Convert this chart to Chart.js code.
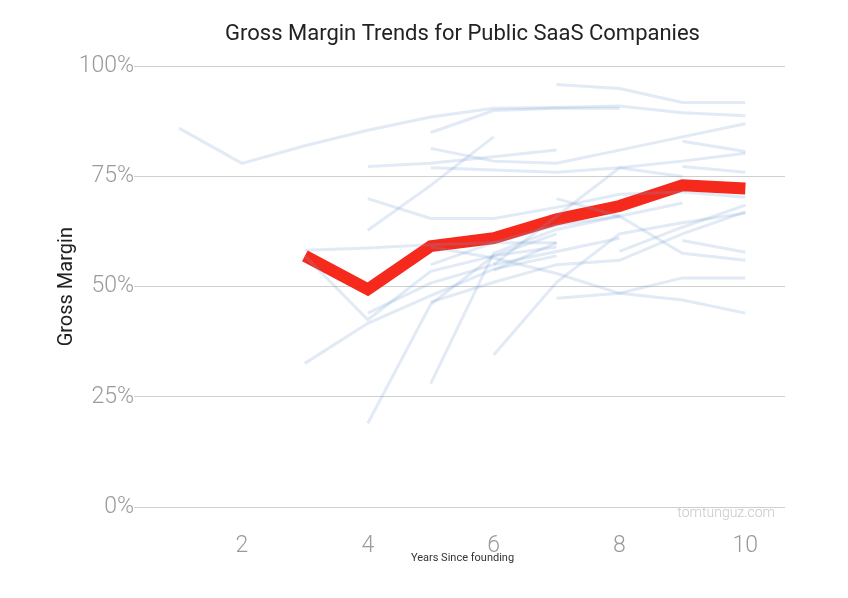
<!DOCTYPE html>
<html>
<head>
<meta charset="utf-8">
<script src="https://cdn.jsdelivr.net/npm/chart.js@4.4.1/dist/chart.umd.min.js"></script>
<style>
  html, body { margin: 0; padding: 0; background: #fff; }
  #wrap { width: 848px; height: 598px; }
</style>
</head>
<body>
<div id="wrap"><canvas id="marginChart" width="848" height="598"></canvas></div>
<script>
// years since founding (x values)
var years = [1, 2, 3, 4, 5, 6, 7, 8, 9, 10];
var xTicks = [2, 4, 6, 8, 10];
var yTicks = [0, 25, 50, 75, 100];

// average gross margin across companies (red line)
var averageMargin = [null, null, 57, 49.4, 59.2, 61, 65.3, 68.3, 73, 72.3];

// individual companies, gross margin % by year (null = no data)
var companyMargins = [
    [86, 78, 82, 85.5, 88.5, 90.5, 90.7, 91, 89.5, 88.8],
    [null, null, null, null, 85, 90, 90.5, 90.5, null, null],
    [null, null, null, null, null, null, 95.9, 95, 91.8, 91.8],
    [null, null, null, null, 81.4, 78.5, 78, 81, 84, 87],
    [null, null, null, 77.3, 78, 79.5, 81, null, null, null],
    [null, null, null, null, 77, 76.5, 76, 77, 78.5, 80.3],
    [null, null, null, null, null, null, null, null, 83, 80.7],
    [null, null, null, null, null, null, null, null, 77.3, 76],
    [null, null, null, 62.8, 73, 84, null, null, null, null],
    [null, null, null, 70, 65.5, 65.5, 68, 71, 71.5, 70.3],
    [null, null, 32.6, 41.7, 48, 54, 57, null, null, null],
    [null, null, 58.3, 58.8, 59.5, 60, 60, null, null, null],
    [null, null, 57, 42.5, 53.5, 57, 59, null, null, null],
    [null, null, null, 19, 46, 57, 62, null, null, null],
    [null, null, null, null, 28, 57.6, 63, 66, null, null],
    [null, null, null, null, null, 34.5, 51, 62, 64.5, 66.7],
    [null, null, null, null, null, null, 47.4, 48.5, 52, 52],
    [null, null, null, null, 59, 56.5, 53, 48.5, 47, 44],
    [null, null, null, null, null, null, null, null, 60.5, 57.8],
    [null, null, null, null, null, null, 70, 66, 57.6, 56],
    [null, null, null, null, null, 53.7, 60, null, null, null],
    [null, null, null, null, null, null, null, 58, 63.5, 68.5],
    [null, null, null, null, 55, 60, 64, 66, 69, null],
    [null, null, null, null, 46.5, 51, 55, 56, 62, 67],
    [null, null, null, 44, 50.8, 55, 58, 61, null, null],
    [null, null, null, null, null, 55, 66, 77, 75, null]
];

var fontFamily = "'Roboto', 'Liberation Sans', sans-serif";

function toPoints(values) {
    return values.map(function (v, i) { return { x: years[i], y: v }; });
}

var datasets = [{
    label: 'Average',
    data: toPoints(averageMargin),
    borderColor: '#f5291c',
    borderWidth: 12,
    borderJoinStyle: 'miter',
    pointRadius: 0,
    spanGaps: false,
    order: 2
}];

companyMargins.forEach(function (row, i) {
    datasets.push({
        label: 'Company ' + (i + 1),
        data: toPoints(row),
        borderColor: 'rgba(120, 160, 210, 0.22)',
        borderWidth: 3,
        pointRadius: 0,
        spanGaps: false,
        order: 1
    });
});

// watermark text in the corner of the plot
var watermark = {
    id: 'watermark',
    afterDraw: function (chart) {
        var ctx = chart.ctx;
        var area = chart.chartArea;
        ctx.save();
        ctx.font = '300 14px ' + fontFamily;
        ctx.fillStyle = '#c8c8c8';
        ctx.textAlign = 'right';
        ctx.textBaseline = 'middle';
        ctx.fillText('tomtunguz.com', area.right - 10, area.bottom + 6);
        ctx.restore();
    }
};

var ctx = document.getElementById('marginChart').getContext('2d');
var marginChart = new Chart(ctx, {
    type: 'line',
    data: { datasets: datasets },
    options: {
        responsive: false,
        animation: false,
        layout: { padding: { left: 0, right: 63, top: 0, bottom: 25 } },
        plugins: {
            legend: { display: false },
            tooltip: { enabled: false },
            title: {
                display: true,
                text: 'Gross Margin Trends for Public SaaS Companies',
                fullSize: false,
                color: '#222',
                font: { family: fontFamily, size: 22, weight: '400' },
                padding: { top: 21, bottom: 19 }
            }
        },
        scales: {
            x: {
                type: 'linear',
                min: 0.38,
                max: 10.63,
                afterBuildTicks: function (scale) {
                    scale.ticks = xTicks.map(function (v) { return { value: v }; });
                },
                afterFit: function (scale) { scale.height = 66; },
                grid: { display: false, drawTicks: false },
                border: { display: false },
                ticks: {
                    color: '#9a9a9a',
                    padding: 25,
                    font: { family: fontFamily, size: 23, weight: '300' }
                },
                title: {
                    display: true,
                    text: 'Years Since founding',
                    color: '#333',
                    font: { family: fontFamily, size: 11 },
                    padding: { top: 0, bottom: 8 }
                }
            },
            y: {
                min: 0,
                max: 100,
                afterBuildTicks: function (scale) {
                    scale.ticks = yTicks.map(function (v) { return { value: v }; });
                },
                afterFit: function (scale) { scale.width = 140; },
                grid: { color: '#cfcfcf', lineWidth: 1, tickLength: 6 },
                border: { display: false },
                ticks: {
                    color: '#9a9a9a',
                    padding: 0,
                    font: { family: fontFamily, size: 23, weight: '300' },
                    callback: function (v) { return v + '%'; }
                },
                title: {
                    display: true,
                    text: 'Gross Margin',
                    color: '#222',
                    font: { family: fontFamily, size: 20 },
                    padding: { top: 55, bottom: 0 }
                }
            }
        }
    },
    plugins: [watermark]
});
</script>
</body>
</html>
